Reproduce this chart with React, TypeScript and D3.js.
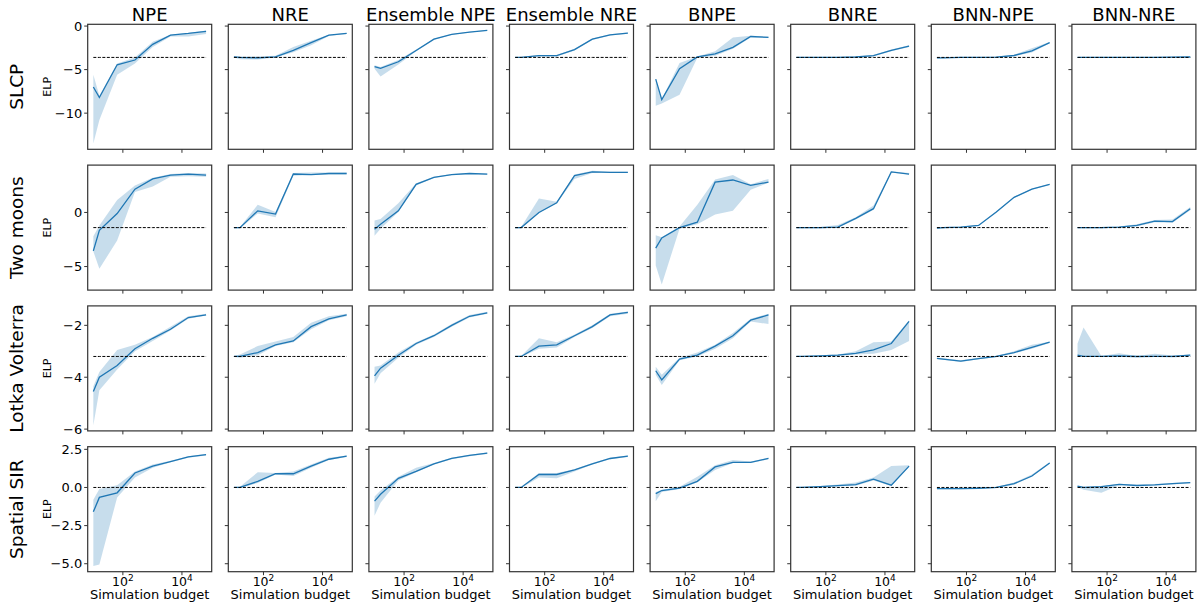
import React from "react";
import * as d3 from "d3";

const methods = ["NPE", "NRE", "Ensemble NPE", "Ensemble NRE", "BNPE", "BNRE", "BNN-NPE", "BNN-NRE"];
const tasks = ["SLCP", "Two moons", "Lotka Volterra", "Spatial SIR"];
const budgets = [10, 16, 64, 256, 1024, 4096, 16384, 65536];
const priorElp = [-3.6, -1.4, -3.2, 0.0];
const yTicks = [[0, -5, -10], [0, -5], [-2, -4, -6], [2.5, 0, -2.5, -5]];
const yTickFormat = ["d", "d", "d", ".1f"];
const xTicks = [100, 10000];

// SLCP: one row per method, one value per budget
const slcpMid = [
  [-7.0, -8.2, -4.45, -3.9, -2.1, -1.05, -0.85, -0.6],
  [-3.55, -3.6, -3.65, -3.55, -2.8, -1.9, -1.05, -0.85],
  [-4.65, -4.85, -4.1, -2.8, -1.5, -0.95, -0.7, -0.5],
  [-3.6, -3.6, -3.4, -3.4, -2.7, -1.5, -1.0, -0.8],
  [-6.1, -8.45, -4.9, -3.55, -3.2, -2.45, -1.2, -1.3],
  [-3.6, -3.6, -3.6, -3.6, -3.55, -3.4, -2.8, -2.3],
  [-3.65, -3.65, -3.6, -3.6, -3.57, -3.38, -2.85, -1.9],
  [-3.6, -3.6, -3.6, -3.6, -3.6, -3.6, -3.57, -3.55],
];
const slcpLo = [
  [-13.5, -10.8, -5.6, -4.3, -2.4, -1.2, -1.2, -0.9],
  [-3.6, -3.8, -3.85, -3.6, -3.0, -2.2, -1.15, -0.9],
  [-4.9, -5.8, -4.4, -2.9, -1.6, -1.0, -0.75, -0.55],
  [-3.65, -3.65, -3.5, -3.5, -2.8, -1.6, -1.08, -0.87],
  [-9.15, -8.9, -7.9, -3.65, -3.4, -2.6, -1.3, -1.35],
  [-3.65, -3.65, -3.65, -3.65, -3.6, -3.48, -2.9, -2.4],
  [-3.7, -3.7, -3.65, -3.65, -3.62, -3.45, -3.05, -1.98],
  [-3.65, -3.65, -3.65, -3.65, -3.65, -3.65, -3.62, -3.6],
];
const slcpHi = [
  [-5.6, -8.0, -4.3, -3.6, -1.8, -1.0, -0.8, -0.5],
  [-3.5, -3.5, -3.5, -3.4, -2.4, -1.7, -1.0, -0.8],
  [-4.5, -4.7, -3.9, -2.7, -1.45, -0.9, -0.65, -0.45],
  [-3.55, -3.55, -3.32, -3.32, -2.6, -1.42, -0.94, -0.74],
  [-6.1, -8.4, -4.25, -3.5, -2.9, -1.3, -1.1, -1.2],
  [-3.55, -3.55, -3.55, -3.55, -3.5, -3.32, -2.7, -2.2],
  [-3.6, -3.6, -3.55, -3.55, -3.52, -3.3, -2.55, -1.82],
  [-3.55, -3.55, -3.55, -3.55, -3.55, -3.55, -3.52, -3.5],
];

// Two moons
const moonsMid = [
  [-3.55, -1.65, -0.1, 2.15, 3.1, 3.45, 3.55, 3.45],
  [-1.4, -1.4, 0.15, -0.15, 3.55, 3.5, 3.6, 3.6],
  [-1.55, -1.1, 0.15, 2.6, 3.25, 3.5, 3.6, 3.55],
  [-1.4, -1.4, 0.0, 0.9, 3.4, 3.75, 3.7, 3.7],
  [-3.3, -2.35, -1.4, -0.9, 2.8, 3.0, 2.5, 2.8],
  [-1.4, -1.4, -1.4, -1.35, -0.55, 0.35, 3.75, 3.55],
  [-1.45, -1.4, -1.35, -1.2, 0.05, 1.4, 2.15, 2.6],
  [-1.4, -1.4, -1.4, -1.35, -1.2, -0.8, -0.85, 0.35],
];
const moonsLo = [
  [-3.6, -5.2, -2.6, 1.9, 2.4, 3.3, 3.35, 3.3],
  [-1.45, -1.45, -0.1, -0.45, 3.4, 3.45, 3.5, 3.5],
  [-2.15, -1.5, 0.05, 2.5, 3.2, 3.45, 3.55, 3.5],
  [-1.45, -1.45, -0.05, 0.85, 3.1, 3.65, 3.65, 3.65],
  [-4.9, -6.65, -1.5, -1.1, -0.2, 0.15, 2.1, 2.75],
  [-1.45, -1.45, -1.45, -1.4, -0.65, 0.25, 3.7, 3.5],
  [-1.5, -1.45, -1.4, -1.25, 0.0, 1.35, 2.1, 2.55],
  [-1.45, -1.45, -1.45, -1.4, -1.3, -0.9, -0.95, 0.2],
];
const moonsHi = [
  [-2.2, -1.2, 1.15, 2.5, 3.2, 3.55, 3.65, 3.6],
  [-1.35, -1.35, 0.7, 0.05, 3.65, 3.7, 3.7, 3.7],
  [-0.75, -0.6, 0.85, 2.7, 3.3, 3.55, 3.65, 3.6],
  [-1.35, -1.35, 1.3, 1.0, 3.5, 3.85, 3.75, 3.75],
  [-2.1, -2.3, -1.3, 0.7, 3.05, 3.45, 2.6, 3.1],
  [-1.35, -1.35, -1.35, -1.15, -0.45, 0.65, 3.8, 3.65],
  [-1.4, -1.35, -1.3, -1.15, 0.1, 1.45, 2.2, 2.65],
  [-1.35, -1.35, -1.35, -1.3, -1.1, -0.7, -0.65, 0.5],
];

// Lotka Volterra
const lotkaMid = [
  [-4.55, -4.0, -3.55, -2.9, -2.5, -2.15, -1.7, -1.6],
  [-3.2, -3.2, -3.05, -2.75, -2.6, -2.05, -1.75, -1.6],
  [-3.95, -3.65, -3.15, -2.7, -2.4, -2.0, -1.65, -1.52],
  [-3.2, -3.2, -2.8, -2.75, -2.4, -2.05, -1.6, -1.5],
  [-3.75, -4.1, -3.3, -3.15, -2.8, -2.4, -1.8, -1.6],
  [-3.2, -3.2, -3.18, -3.15, -3.08, -2.95, -2.7, -1.85],
  [-3.27, -3.3, -3.38, -3.28, -3.2, -3.05, -2.85, -2.65],
  [-3.15, -3.2, -3.2, -3.18, -3.2, -3.2, -3.2, -3.15],
];
const lotkaLo = [
  [-5.85, -4.5, -3.7, -3.0, -2.6, -2.2, -1.75, -1.62],
  [-3.22, -3.25, -3.15, -2.8, -2.65, -2.15, -1.8, -1.65],
  [-4.25, -3.85, -3.25, -2.75, -2.45, -2.05, -1.7, -1.55],
  [-3.22, -3.22, -2.9, -2.85, -2.45, -2.1, -1.65, -1.55],
  [-3.9, -4.3, -3.35, -3.2, -2.9, -2.5, -1.85, -1.95],
  [-3.22, -3.22, -3.2, -3.18, -3.12, -3.1, -2.95, -2.6],
  [-3.3, -3.33, -3.41, -3.31, -3.23, -3.08, -2.9, -2.68],
  [-3.2, -3.22, -3.22, -3.2, -3.26, -3.22, -3.24, -3.2],
];
const lotkaHi = [
  [-4.35, -3.8, -2.95, -2.75, -2.45, -2.05, -1.65, -1.55],
  [-3.18, -3.12, -2.8, -2.62, -2.45, -1.9, -1.65, -1.55],
  [-3.6, -3.55, -3.05, -2.65, -2.35, -1.95, -1.6, -1.48],
  [-3.18, -3.18, -2.5, -2.65, -2.35, -2.0, -1.55, -1.47],
  [-3.6, -3.9, -3.25, -3.05, -2.75, -2.3, -1.75, -1.55],
  [-3.18, -3.18, -3.15, -3.12, -3.0, -2.65, -2.62, -1.8],
  [-3.25, -3.27, -3.35, -3.25, -3.17, -3.0, -2.75, -2.63],
  [-2.7, -2.08, -3.18, -3.08, -3.18, -3.1, -3.16, -3.12],
];

// Spatial SIR
const sirMid = [
  [-1.6, -0.65, -0.35, 0.95, 1.4, 1.7, 2.0, 2.15],
  [0.0, 0.0, 0.4, 0.9, 0.9, 1.4, 1.85, 2.05],
  [-0.9, -0.45, 0.6, 1.05, 1.55, 1.9, 2.1, 2.25],
  [0.0, 0.0, 0.85, 0.85, 1.15, 1.55, 1.9, 2.05],
  [-0.4, -0.2, -0.05, 0.4, 1.35, 1.65, 1.65, 1.9],
  [0.0, 0.0, 0.05, 0.12, 0.18, 0.55, 0.15, 1.4],
  [-0.07, -0.07, -0.08, -0.05, 0.0, 0.25, 0.75, 1.6],
  [0.08, 0.0, 0.05, 0.2, 0.13, 0.17, 0.25, 0.32],
];
const sirLo = [
  [-5.15, -5.05, -0.65, 0.65, 1.3, 1.65, 1.95, 2.1],
  [-0.03, -0.05, 0.3, 0.85, 0.75, 1.3, 1.8, 2.0],
  [-1.85, -1.0, 0.45, 1.0, 1.5, 1.85, 2.05, 2.2],
  [-0.03, -0.03, 0.65, 0.6, 1.05, 1.5, 1.85, 2.0],
  [-0.9, -0.3, -0.1, 0.35, 1.15, 1.6, 1.6, 1.85],
  [-0.02, -0.02, 0.0, 0.08, 0.12, 0.45, 0.1, 1.35],
  [-0.12, -0.12, -0.12, -0.08, -0.05, 0.18, 0.7, 1.55],
  [0.03, -0.15, -0.35, 0.15, 0.1, 0.13, 0.2, 0.28],
];
const sirHi = [
  [-0.8, -0.1, 0.15, 1.05, 1.5, 1.75, 2.05, 2.2],
  [0.03, 0.05, 1.0, 0.95, 1.05, 1.5, 1.95, 2.1],
  [-0.6, -0.2, 0.7, 1.3, 1.6, 1.95, 2.15, 2.3],
  [0.03, 0.03, 0.95, 0.95, 1.2, 1.6, 1.95, 2.1],
  [-0.3, -0.15, 0.05, 0.7, 1.45, 1.8, 1.7, 1.95],
  [0.02, 0.05, 0.1, 0.2, 0.33, 0.65, 1.4, 1.45],
  [-0.03, -0.04, -0.05, -0.02, 0.05, 0.32, 0.85, 1.65],
  [0.12, 0.03, 0.08, 0.25, 0.17, 0.22, 0.3, 0.36],
];

const rowMid = [slcpMid, moonsMid, lotkaMid, sirMid];
const rowLo = [slcpLo, moonsLo, lotkaLo, sirLo];
const rowHi = [slcpHi, moonsHi, lotkaHi, sirHi];

const W = 1204, H = 608;
const left0 = 87.7, colStep = 140.6, panelW = 124;
const top0 = 24.3, rowStep = 140.8, panelH = 125;
const blue = "#1f77b4";
const spine = "#333";
const font = "DejaVu Sans, sans-serif";

// matplotlib-like autoscale with 5% margins
const rowDomain = (r: number): [number, number] => {
  const vals = [rowMid[r], rowLo[r], rowHi[r]].flat(2);
  const [mn, mx] = d3.extent(vals) as [number, number];
  const pad = (mx - mn) * 0.05;
  return [mn - pad, mx + pad];
};
const lx = d3.extent(budgets.map(Math.log10)) as [number, number];
const lpad = (lx[1] - lx[0]) * 0.05;
const xDomain = [10 ** (lx[0] - lpad), 10 ** (lx[1] + lpad)];

const Panel = ({ r, c }: { r: number; c: number }) => {
  const x0 = left0 + c * colStep;
  const y0 = top0 + r * rowStep;
  const x = d3.scaleLog().domain(xDomain).range([0, panelW]);
  const y = d3.scaleLinear().domain(rowDomain(r)).range([panelH, 0]);
  const mid = rowMid[r][c], lo = rowLo[r][c], hi = rowHi[r][c];
  const area = d3.area<number>()
    .x((d) => x(d))
    .y0((_, i) => y(lo[i]))
    .y1((_, i) => y(hi[i]));
  const line = d3.line<number>()
    .x((d) => x(d))
    .y((_, i) => y(mid[i]));
  const prior = d3.line<number>()
    .x((d) => x(d))
    .y(() => y(priorElp[r]));
  const fmt = d3.format(yTickFormat[r]);
  const last = r === tasks.length - 1;
  return (
    <g transform={`translate(${x0},${y0})`}>
      <path d={area(budgets) ?? ""} fill={blue} fillOpacity={0.25} stroke="none" />
      <path d={line(budgets) ?? ""} fill="none" stroke={blue} strokeWidth={1.3} />
      <path d={prior(budgets) ?? ""} fill="none" stroke="#000" strokeWidth={1} strokeDasharray="3,1.5" />
      <rect x={0} y={0} width={panelW} height={panelH} fill="none" stroke={spine} strokeWidth={1.2} />
      {yTicks[r].map((t) => (
        <g key={t} transform={`translate(0,${y(t)})`}>
          <line x1={-3.5} x2={0} stroke={spine} strokeWidth={1} />
          {c === 0 && (
            <text x={-5.5} dy="0.36em" textAnchor="end" fontSize={13} fontFamily={font} fill="#000">
              {fmt(t)}
            </text>
          )}
        </g>
      ))}
      {xTicks.map((t) => (
        <g key={t} transform={`translate(${x(t)},${panelH})`}>
          <line y1={0} y2={3.5} stroke={spine} strokeWidth={1} />
          {last && (
            <text y={14.5} textAnchor="middle" fontSize={12.5} fontFamily={font} fill="#000">
              10
              <tspan dy={-5.5} fontSize={9}>{Math.round(Math.log10(t))}</tspan>
            </text>
          )}
        </g>
      ))}
      {last && (
        <text x={panelW / 2} y={panelH + 27.5} textAnchor="middle" fontSize={13} fontFamily={font} fill="#000">
          Simulation budget
        </text>
      )}
      {r === 0 && (
        <text x={panelW / 2} y={-3} textAnchor="middle" fontSize={18} fontFamily={font} fill="#000">
          {methods[c]}
        </text>
      )}
      {c === 0 && (
        <>
          <text transform={`translate(-36.5,${panelH / 2}) rotate(-90)`} textAnchor="middle" fontSize={11} fontFamily={font} fill="#000">
            ELP
          </text>
          <text transform={`translate(-65,${panelH / 2}) rotate(-90)`} textAnchor="middle" fontSize={18.5} fontFamily={font} fill="#000">
            {tasks[r]}
          </text>
        </>
      )}
    </g>
  );
};

export default function App() {
  return (
    <svg width={W} height={H} style={{ position: "absolute", left: 0, top: 0, background: "#fff" }}>
      {tasks.map((_, r) => methods.map((_, c) => <Panel key={`${r}-${c}`} r={r} c={c} />))}
    </svg>
  );
}
